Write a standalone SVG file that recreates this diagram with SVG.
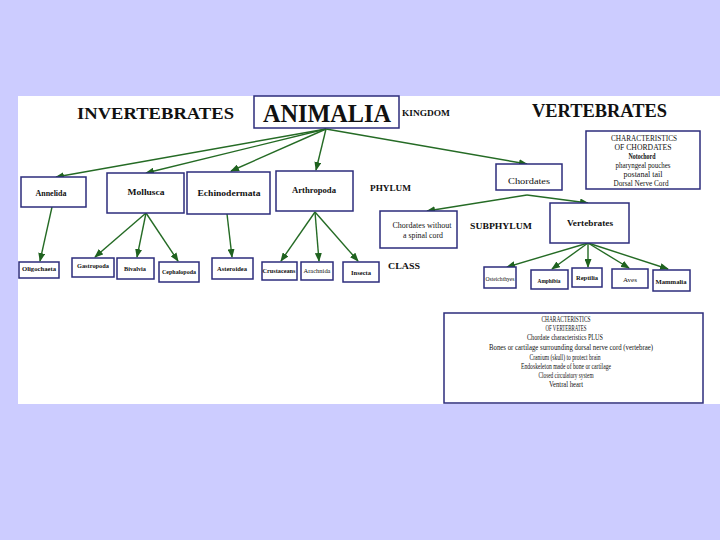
<svg xmlns="http://www.w3.org/2000/svg" width="720" height="540" viewBox="0 0 720 540">
<defs>
<style>
.box{fill:#fff;stroke:#2c2c7c;stroke-width:1.5}
.t{font-family:"Liberation Serif","Times New Roman",serif;fill:#111;text-anchor:middle}
.b{font-weight:bold}
.hd{font-family:"Liberation Serif","Times New Roman",serif;font-weight:bold;fill:#111}
.arr{stroke:#256b25;stroke-width:1.4;fill:none;marker-end:url(#ah)}
</style>
<marker id="ah" markerWidth="9" markerHeight="7" refX="8" refY="3.5" orient="auto" markerUnits="userSpaceOnUse">
<path d="M0,0 L9,3.5 L0,7 z" fill="#1f621f"/>
</marker>
</defs>
<rect x="0" y="0" width="720" height="540" fill="#ccccff"/>
<rect x="18" y="96" width="702" height="308" fill="#fff"/>

<g id="headings">
<text class="hd" x="77" y="119" font-size="17.5" textLength="157" lengthAdjust="spacingAndGlyphs">INVERTEBRATES</text>
<text class="hd" x="532" y="117" font-size="18" textLength="135" lengthAdjust="spacingAndGlyphs">VERTEBRATES</text>
<text class="hd" x="402" y="116" font-size="7.5" textLength="48" lengthAdjust="spacingAndGlyphs">KINGDOM</text>
<text class="hd" x="370" y="191" font-size="8.5" textLength="41" lengthAdjust="spacingAndGlyphs">PHYLUM</text>
<text class="hd" x="470" y="229" font-size="8.5" textLength="62" lengthAdjust="spacingAndGlyphs">SUBPHYLUM</text>
<text class="hd" x="388" y="269" font-size="8.5" textLength="32" lengthAdjust="spacingAndGlyphs">CLASS</text>
</g>

<g id="connectors">
<line class="arr" x1="326" y1="129" x2="56" y2="177"/>
<line class="arr" x1="326" y1="129" x2="146" y2="173"/>
<line class="arr" x1="326" y1="129" x2="231" y2="171"/>
<line class="arr" x1="326" y1="129" x2="316" y2="170"/>
<line class="arr" x1="326" y1="129" x2="527" y2="164"/>
<line class="arr" x1="527" y1="195" x2="427" y2="211"/>
<line class="arr" x1="527" y1="195" x2="588" y2="203"/>
<line class="arr" x1="52" y1="207" x2="40" y2="261"/>
<line class="arr" x1="146" y1="213" x2="95" y2="257"/>
<line class="arr" x1="146" y1="213" x2="137" y2="257"/>
<line class="arr" x1="146" y1="213" x2="178" y2="261"/>
<line class="arr" x1="227" y1="214" x2="232" y2="257"/>
<line class="arr" x1="315" y1="212" x2="281" y2="261"/>
<line class="arr" x1="315" y1="212" x2="319" y2="261"/>
<line class="arr" x1="315" y1="212" x2="358" y2="261"/>
<line class="arr" x1="588" y1="243" x2="507" y2="267"/>
<line class="arr" x1="588" y1="243" x2="552" y2="269"/>
<line class="arr" x1="588" y1="243" x2="588" y2="267"/>
<line class="arr" x1="588" y1="243" x2="629" y2="268"/>
<line class="arr" x1="588" y1="243" x2="668" y2="269"/>
</g>

<g id="animalia">
<rect class="box" x="254" y="96" width="145" height="32"/>
<text class="t b" x="327" y="122" font-size="25" textLength="128" lengthAdjust="spacingAndGlyphs">ANIMALIA</text>
</g>

<g id="annelida"><rect class="box" x="21" y="177" width="65" height="30"/><text class="t b" x="51" y="196" font-size="8" textLength="31" lengthAdjust="spacingAndGlyphs">Annelida</text></g>
<g id="mollusca"><rect class="box" x="107" y="173" width="77" height="40"/><text class="t b" x="146" y="195" font-size="8" textLength="37" lengthAdjust="spacingAndGlyphs">Mollusca</text></g>
<g id="echinodermata"><rect class="box" x="187" y="172" width="83" height="42"/><text class="t b" x="229" y="196" font-size="8" textLength="63" lengthAdjust="spacingAndGlyphs">Echinodermata</text></g>
<g id="arthropoda"><rect class="box" x="276" y="171" width="77" height="40"/><text class="t b" x="314" y="193" font-size="8" textLength="44" lengthAdjust="spacingAndGlyphs">Arthropoda</text></g>
<g id="chordates"><rect class="box" x="496" y="164" width="66" height="26"/><text class="t" x="529" y="184" font-size="8" textLength="42" lengthAdjust="spacingAndGlyphs">Chordates</text></g>

<g id="chordates-without"><rect class="box" x="380" y="211" width="77" height="37"/>
<text class="t" x="422" y="228" font-size="7.5" textLength="59" lengthAdjust="spacingAndGlyphs">Chordates without</text>
<text class="t" x="423" y="238" font-size="7.5" textLength="40" lengthAdjust="spacingAndGlyphs">a spinal cord</text></g>
<g id="vertebrates"><rect class="box" x="550" y="203" width="79" height="40"/><text class="t b" x="590" y="226" font-size="8" textLength="46" lengthAdjust="spacingAndGlyphs">Vertebrates</text></g>

<g id="oligochaeta"><rect class="box" x="19" y="262" width="40" height="16"/><text class="t b" x="39" y="271" font-size="6.8" textLength="34" lengthAdjust="spacingAndGlyphs">Oligochaeta</text></g>
<g id="gastropoda"><rect class="box" x="72" y="258" width="42" height="19"/><text class="t b" x="93" y="268" font-size="6.8" textLength="32" lengthAdjust="spacingAndGlyphs">Gastropoda</text></g>
<g id="bivalvia"><rect class="box" x="117" y="258" width="37" height="21"/><text class="t b" x="135" y="271" font-size="6.8" textLength="22" lengthAdjust="spacingAndGlyphs">Bivalvia</text></g>
<g id="cephalopoda"><rect class="box" x="159" y="262" width="40" height="20"/><text class="t b" x="179" y="274" font-size="6.8" textLength="34" lengthAdjust="spacingAndGlyphs">Cephalopoda</text></g>
<g id="asteroidea"><rect class="box" x="212" y="258" width="41" height="21"/><text class="t b" x="232" y="271" font-size="6.8" textLength="30" lengthAdjust="spacingAndGlyphs">Asteroidea</text></g>
<g id="crustaceans"><rect class="box" x="262" y="262" width="35" height="18"/><text class="t b" x="279" y="273" font-size="6.8" textLength="33" lengthAdjust="spacingAndGlyphs">Crustaceans</text></g>
<g id="arachnida"><rect class="box" x="301" y="262" width="32" height="18"/><text class="t" x="317" y="273" font-size="6.8" textLength="27" lengthAdjust="spacingAndGlyphs">Arachnida</text></g>
<g id="insecta"><rect class="box" x="343" y="262" width="36" height="20"/><text class="t b" x="361" y="275" font-size="6.8" textLength="20" lengthAdjust="spacingAndGlyphs">Insecta</text></g>

<g id="osteichthyes"><rect class="box" x="484" y="267" width="32" height="21"/><text class="t" x="500" y="281" font-size="6.8" textLength="29" lengthAdjust="spacingAndGlyphs">Osteichthyes</text></g>
<g id="amphibia"><rect class="box" x="531" y="270" width="37" height="19"/><text class="t b" x="549" y="283" font-size="6.8" textLength="23" lengthAdjust="spacingAndGlyphs">Amphibia</text></g>
<g id="reptilia"><rect class="box" x="572" y="268" width="30" height="19"/><text class="t b" x="587" y="280" font-size="6.8" textLength="22" lengthAdjust="spacingAndGlyphs">Reptilia</text></g>
<g id="aves"><rect class="box" x="612" y="269" width="36" height="19"/><text class="t" x="630" y="282" font-size="6.8" textLength="14" lengthAdjust="spacingAndGlyphs">Aves</text></g>
<g id="mammalia"><rect class="box" x="653" y="270" width="37" height="21"/><text class="t b" x="671" y="284" font-size="6.8" textLength="31" lengthAdjust="spacingAndGlyphs">Mammalia</text></g>

<g id="chordate-characteristics">
<rect class="box" x="586" y="131" width="114" height="58"/>
<text class="t" x="644" y="141" font-size="8" textLength="66" lengthAdjust="spacingAndGlyphs">CHARACTERISTICS</text>
<text class="t" x="643" y="150" font-size="8" textLength="57" lengthAdjust="spacingAndGlyphs">OF CHORDATES</text>
<text class="t b" x="642" y="159" font-size="8" textLength="27" lengthAdjust="spacingAndGlyphs">Notochord</text>
<text class="t" x="643" y="168" font-size="8" textLength="55" lengthAdjust="spacingAndGlyphs">pharyngeal pouches</text>
<text class="t" x="643" y="177" font-size="8" textLength="39" lengthAdjust="spacingAndGlyphs">postanal tail</text>
<text class="t" x="641" y="186" font-size="8" textLength="55" lengthAdjust="spacingAndGlyphs">Dorsal Nerve Cord</text>
</g>

<g id="vertebrate-characteristics">
<rect class="box" x="444" y="313" width="259" height="90"/>
<text class="t" x="566" y="322" font-size="7.8" textLength="49" lengthAdjust="spacingAndGlyphs">CHARACTERISTICS</text>
<text class="t" x="566" y="331" font-size="7.8" textLength="41" lengthAdjust="spacingAndGlyphs">OF VERTEBRATES</text>
<text class="t" x="565" y="340" font-size="7.8" textLength="76" lengthAdjust="spacingAndGlyphs">Chordate characteristics PLUS</text>
<text class="t" x="571" y="350" font-size="7.8" textLength="164" lengthAdjust="spacingAndGlyphs">Bones or cartilage surrounding dorsal nerve cord (vertebrae)</text>
<text class="t" x="565" y="360" font-size="7.8" textLength="71" lengthAdjust="spacingAndGlyphs">Cranium (skull) to protect brain</text>
<text class="t" x="566" y="369" font-size="7.8" textLength="90" lengthAdjust="spacingAndGlyphs">Endoskeleton made of bone or cartilage</text>
<text class="t" x="566" y="378" font-size="7.8" textLength="55" lengthAdjust="spacingAndGlyphs">Closed circulatory system</text>
<text class="t" x="566" y="387" font-size="7.8" textLength="34" lengthAdjust="spacingAndGlyphs">Ventral heart</text>
</g>
</svg>
